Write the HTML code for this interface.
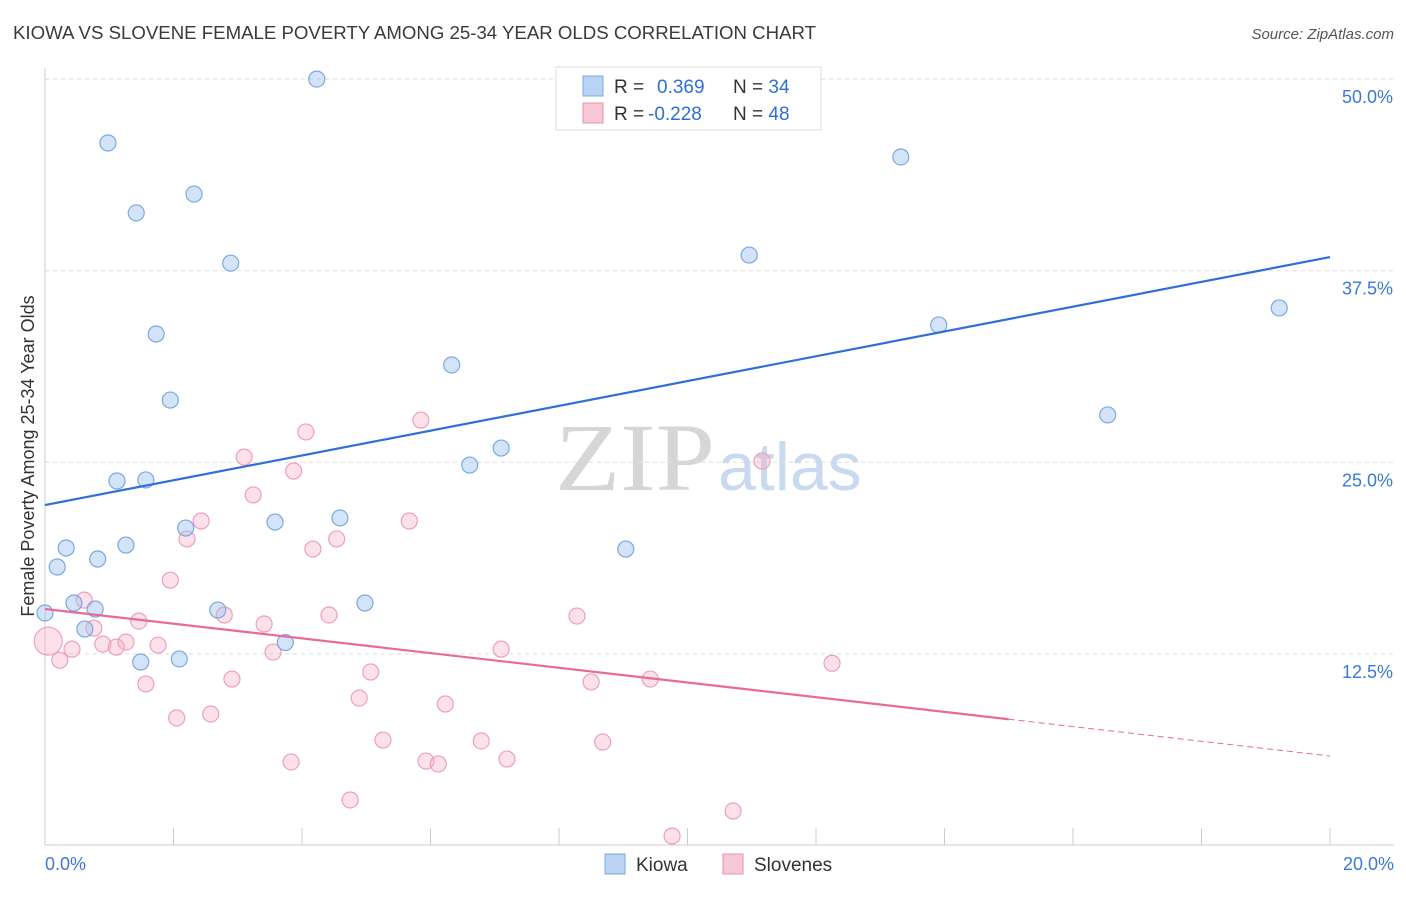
<!DOCTYPE html>
<html><head><meta charset="utf-8"><style>
body{margin:0;background:#fff;font-family:"Liberation Sans",sans-serif}
svg text{font-family:"Liberation Sans",sans-serif}
svg text.serif{font-family:"Liberation Serif",serif}
</style></head><body>
<svg id="chart" width="1406" height="892" xmlns="http://www.w3.org/2000/svg">
<text x="13" y="39" font-size="18" fill="#3a3a3a" textLength="803" lengthAdjust="spacingAndGlyphs">KIOWA VS SLOVENE FEMALE POVERTY AMONG 25-34 YEAR OLDS CORRELATION CHART</text>
<text x="1394" y="39" font-size="15" fill="#555" text-anchor="end" font-style="italic">Source: ZipAtlas.com</text>
<text class="serif" x="555" y="490" font-size="96" fill="#d6d6d6" textLength="160" lengthAdjust="spacingAndGlyphs">ZIP</text>
<text x="718" y="490" font-size="68" fill="#c9d9f0">atlas</text>
<text transform="translate(34,456) rotate(-90)" font-size="18" fill="#333" text-anchor="middle">Female Poverty Among 25-34 Year Olds</text>
<g id="grid"></g><g id="marks"></g>
<g>
<rect x="556" y="67" width="265" height="63" fill="#fff" stroke="#ddd"/>
<rect x="583" y="76" width="20" height="20" fill="#b9d3f5" stroke="#7aa8e0"/>
<rect x="583" y="103" width="20" height="20" fill="#f9c8d6" stroke="#e890ab"/>
<text x="614" y="93" font-size="19" fill="#333">R = <tspan fill="#2f6fd6" x="657">0.369</tspan><tspan fill="#333" x="733">N = </tspan><tspan fill="#2f6fd6">34</tspan></text>
<text x="614" y="120" font-size="19" fill="#333">R = <tspan fill="#2f6fd6" x="648">-0.228</tspan><tspan fill="#333" x="733">N = </tspan><tspan fill="#2f6fd6">48</tspan></text>
</g>
<g>
<rect x="605" y="854" width="20" height="20" fill="#b9d3f5" stroke="#7aa8e0"/>
<text x="636" y="871" font-size="19" fill="#333">Kiowa</text>
<rect x="723" y="854" width="20" height="20" fill="#f9c8d6" stroke="#e890ab"/>
<text x="754" y="871" font-size="19" fill="#333">Slovenes</text>
</g>
</svg>
<script>
const kiowaX=[0.0,0.19,0.33,0.45,0.62,0.78,0.82,0.98,1.12,1.26,1.42,1.49,1.57,1.73,1.95,2.09,2.19,2.32,2.69,2.89,3.58,3.74,4.23,4.59,4.98,6.33,6.61,7.10,9.04,10.96,13.32,13.91,16.54,19.21];
const kiowaY=[15.17,18.17,19.41,15.82,14.12,15.43,18.69,45.83,23.78,19.60,41.27,11.97,23.85,33.37,29.06,12.17,20.71,42.50,15.36,37.99,21.10,13.24,50.0,21.37,15.82,31.35,24.82,25.93,19.34,38.52,44.92,33.96,28.09,35.07];
const slovX=[0.05,0.23,0.42,0.61,0.76,0.90,1.11,1.26,1.46,1.57,1.76,1.95,2.05,2.21,2.43,2.58,2.79,2.91,3.10,3.24,3.41,3.55,3.83,3.87,4.06,4.17,4.42,4.54,4.75,4.89,5.07,5.26,5.67,5.85,5.93,6.12,6.23,6.79,7.10,7.19,8.28,8.50,8.68,9.42,9.76,10.71,11.16,12.25];
const slovY=[13.33,12.09,12.81,16.01,14.18,13.14,12.94,13.27,14.64,10.54,13.07,17.31,8.32,20.00,21.17,8.58,15.04,10.86,25.34,22.87,14.45,12.62,5.45,24.43,26.98,19.34,15.04,20.00,2.97,9.62,11.32,6.88,21.17,27.75,5.51,5.32,9.23,6.82,12.81,5.64,14.97,10.67,6.75,10.86,0.62,2.25,25.08,11.89];
const kiowaTrend=[22.21,38.39];   // y at x=0 and x=20
const slovTrend=[15.43,5.84];     // y at x=0 and x=20
const slovSolidEnd=15.0;
const xTicks=[0,2,4,6,8,10,12,14,16,18,20];
const yTicks=[12.5,25,37.5,50];
const yTickLabels=["12.5%","25.0%","37.5%","50.0%"];
const xS=v=>45+v*64.25, yS=v=>845.5-v*15.328;
const NS="http://www.w3.org/2000/svg";
function mk(p,t,a){const e=document.createElementNS(NS,t);for(const k in a)e.setAttribute(k,a[k]);p.appendChild(e);return e;}
const grid=document.getElementById('grid'),marks=document.getElementById('marks');
yTicks.forEach((t,i)=>{
 const l=mk(grid,'line',{x1:45,x2:1394,y1:yS(t),y2:yS(t),stroke:'#ddd','stroke-dasharray':'4,4'});
 
 
 const tx=mk(grid,'text',{x:1393,y:yS(t)+24,'font-size':18,fill:'#3b78d8','text-anchor':'end'});tx.textContent=yTickLabels[i];
 
 
});
mk(grid,'line',{x1:45,x2:45,y1:68,y2:845,stroke:'#ccc'});
mk(grid,'line',{x1:45,x2:1394,y1:845,y2:845,stroke:'#ccc'});
xTicks.forEach(t=>{const l=mk(grid,'line',{x1:xS(t),x2:xS(t),y1:828,y2:845,stroke:'#ccc'});
 
 });
const x0=mk(grid,'text',{x:45,y:870,'font-size':18,fill:'#3b78d8'});x0.textContent='0.0%';


const x1=mk(grid,'text',{x:1394,y:870,'font-size':18,fill:'#3b78d8','text-anchor':'end'});x1.textContent='20.0%';


slovX.forEach((x,i)=>{const c=mk(marks,'circle',{cx:xS(x),cy:yS(slovY[i]),r:i==0?14:8,fill:'rgba(245,170,195,0.35)',stroke:'#eda0b8','stroke-width':1.2});
 
 });
kiowaX.forEach((x,i)=>{const c=mk(marks,'circle',{cx:xS(x),cy:yS(kiowaY[i]),r:8,fill:'rgba(160,195,240,0.45)',stroke:'#7aa8e0','stroke-width':1.2});
 
 });
const sAt=x=>slovTrend[0]+(slovTrend[1]-slovTrend[0])*x/20;
const kl=mk(marks,'line',{x1:xS(0),y1:yS(kiowaTrend[0]),x2:xS(20),y2:yS(kiowaTrend[1]),stroke:'#2f6fd6','stroke-width':2.2});


const sl=mk(marks,'line',{x1:xS(0),y1:yS(sAt(0)),x2:xS(slovSolidEnd),y2:yS(sAt(slovSolidEnd)),stroke:'#e8699a','stroke-width':2.2});


const sd=mk(marks,'line',{x1:xS(slovSolidEnd),y1:yS(sAt(slovSolidEnd)),x2:xS(20),y2:yS(sAt(20)),stroke:'#e8699a','stroke-width':1,'stroke-dasharray':'6,4'});


</script>
</body></html>
